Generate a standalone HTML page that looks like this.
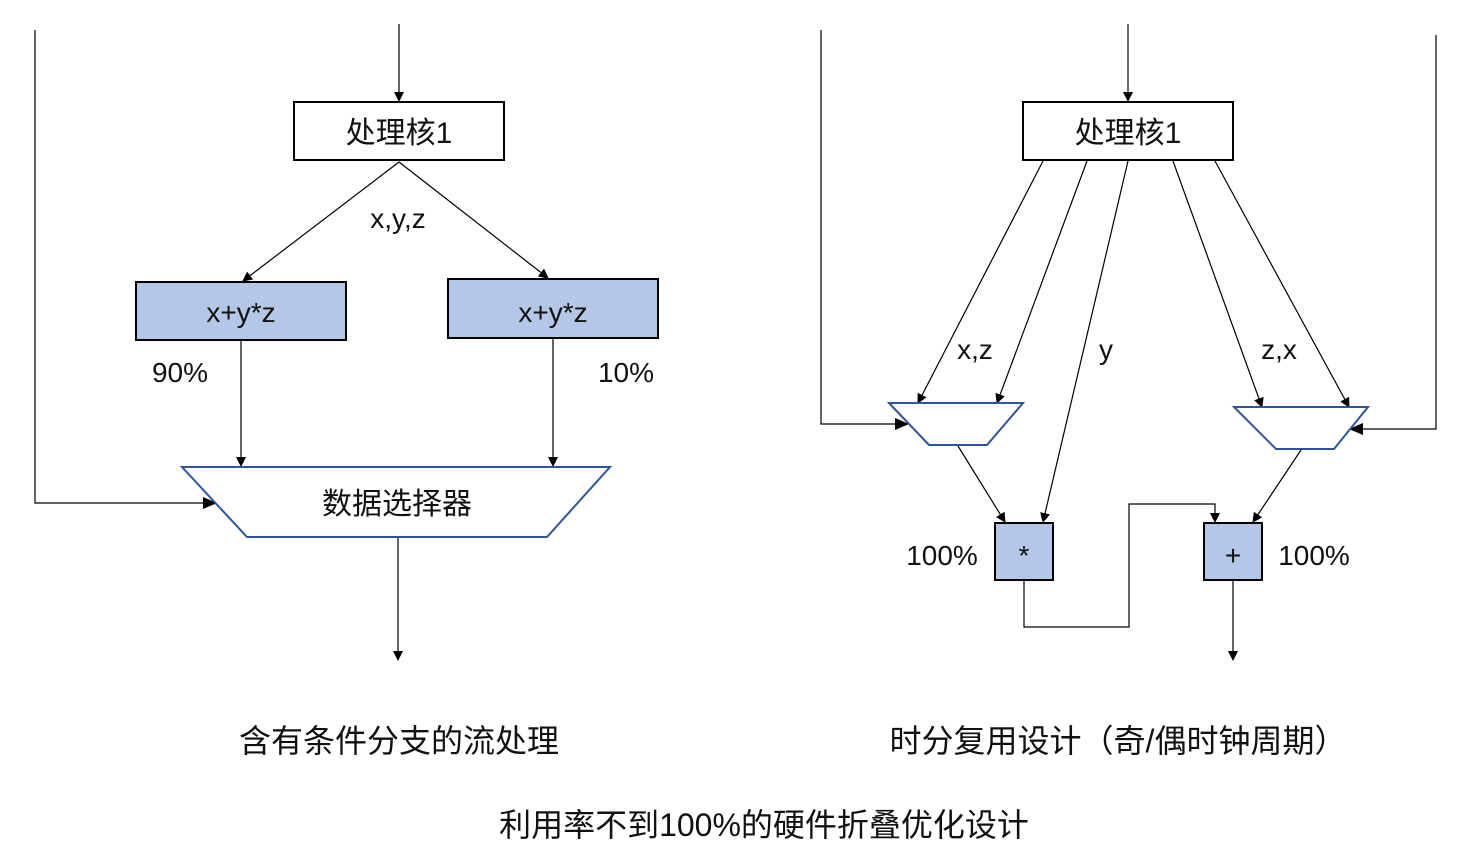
<!DOCTYPE html>
<html><head><meta charset="utf-8"><style>
html,body{margin:0;padding:0;background:#fff;}
svg text{font-family:"Liberation Sans","Noto Sans CJK SC",sans-serif;fill:#111;}
</style></head><body>
<svg width="1468" height="853" viewBox="0 0 1468 853" xmlns="http://www.w3.org/2000/svg">
<defs><marker id="a" markerWidth="10" markerHeight="10" refX="9" refY="5" orient="auto" markerUnits="userSpaceOnUse"><path d="M0,0 L10,5 L0,10 z" fill="#000"/></marker>
<marker id="b" markerWidth="14" markerHeight="12" refX="13" refY="6" orient="auto" markerUnits="userSpaceOnUse"><path d="M0,0 L14,6 L0,12 z" fill="#000"/></marker></defs>
<g stroke="#000" stroke-width="1.2" fill="none">
<!-- left -->
<line x1="399" y1="24" x2="399" y2="101" marker-end="url(#a)"/>
<line x1="399" y1="162" x2="243" y2="281" marker-end="url(#a)"/>
<line x1="399" y1="162" x2="548" y2="278" marker-end="url(#a)"/>
<line x1="241" y1="341" x2="241" y2="466" marker-end="url(#a)"/>
<line x1="553" y1="339" x2="553" y2="466" marker-end="url(#a)"/>
<polyline points="35,30 35,503 216,503" marker-end="url(#b)"/>
<line x1="398" y1="538" x2="398" y2="660" marker-end="url(#a)"/>
<!-- right -->
<line x1="1128" y1="24" x2="1128" y2="101" marker-end="url(#a)"/>
<line x1="1043" y1="161" x2="918" y2="403" marker-end="url(#a)"/>
<line x1="1087" y1="161" x2="997" y2="403" marker-end="url(#a)"/>
<line x1="1128" y1="161" x2="1043" y2="522" marker-end="url(#a)"/>
<line x1="1173" y1="161" x2="1262" y2="407" marker-end="url(#a)"/>
<line x1="1215" y1="161" x2="1349" y2="407" marker-end="url(#a)"/>
<polyline points="821,30 821,424 908,424" marker-end="url(#b)"/>
<polyline points="1436,35 1436,429 1350,429" marker-end="url(#b)"/>
<line x1="958" y1="446" x2="1005" y2="522" marker-end="url(#a)"/>
<line x1="1301" y1="450" x2="1253" y2="522" marker-end="url(#a)"/>
<polyline points="1024,581 1024,627 1129,627 1129,504 1215,504 1215,522" marker-end="url(#a)"/>
<line x1="1233" y1="581" x2="1233" y2="660" marker-end="url(#a)"/>
</g>
<g stroke="#000" stroke-width="2">
<rect x="294" y="102" width="210" height="58" fill="#fff"/>
<rect x="1023" y="102" width="210" height="58" fill="#fff"/>
<rect x="136" y="282" width="210" height="58" fill="#b4c7e7"/>
<rect x="448" y="279" width="210" height="59" fill="#b4c7e7"/>
<rect x="995" y="523" width="58" height="57" fill="#b4c7e7"/>
<rect x="1204" y="523" width="58" height="57" fill="#b4c7e7"/>
</g>
<g stroke="#2f5597" stroke-width="2" fill="#fff">
<polygon points="182,467 610,467 547,537 247,537"/>
<polygon points="889,403 1023,403 987,445 929,445"/>
<polygon points="1234,407 1368,407 1334,449 1276,449"/>
</g>
<g font-size="30" text-anchor="middle">
<text x="399" y="143">处理核1</text>
<text x="1128" y="143">处理核1</text>
<text x="397" y="514">数据选择器</text>
</g>
<g font-size="28" text-anchor="middle">
<text x="241" y="322">x+y*z</text>
<text x="553" y="322">x+y*z</text>
<text x="398" y="228">x,y,z</text>
<text x="180" y="382">90%</text>
<text x="626" y="382">10%</text>
<text x="975" y="359">x,z</text>
<text x="1106" y="359">y</text>
<text x="1279" y="359">z,x</text>
<text x="942" y="565">100%</text>
<text x="1314" y="565">100%</text>
<text x="1024" y="565">*</text>
<text x="1233" y="565">+</text>
</g>
<g font-size="32" text-anchor="middle">
<text x="399" y="752">含有条件分支的流处理</text>
<text x="1118" y="752">时分复用设计（奇/偶时钟周期）</text>
<text x="764" y="836">利用率不到100%的硬件折叠优化设计</text>
</g>
</svg>
</body></html>
